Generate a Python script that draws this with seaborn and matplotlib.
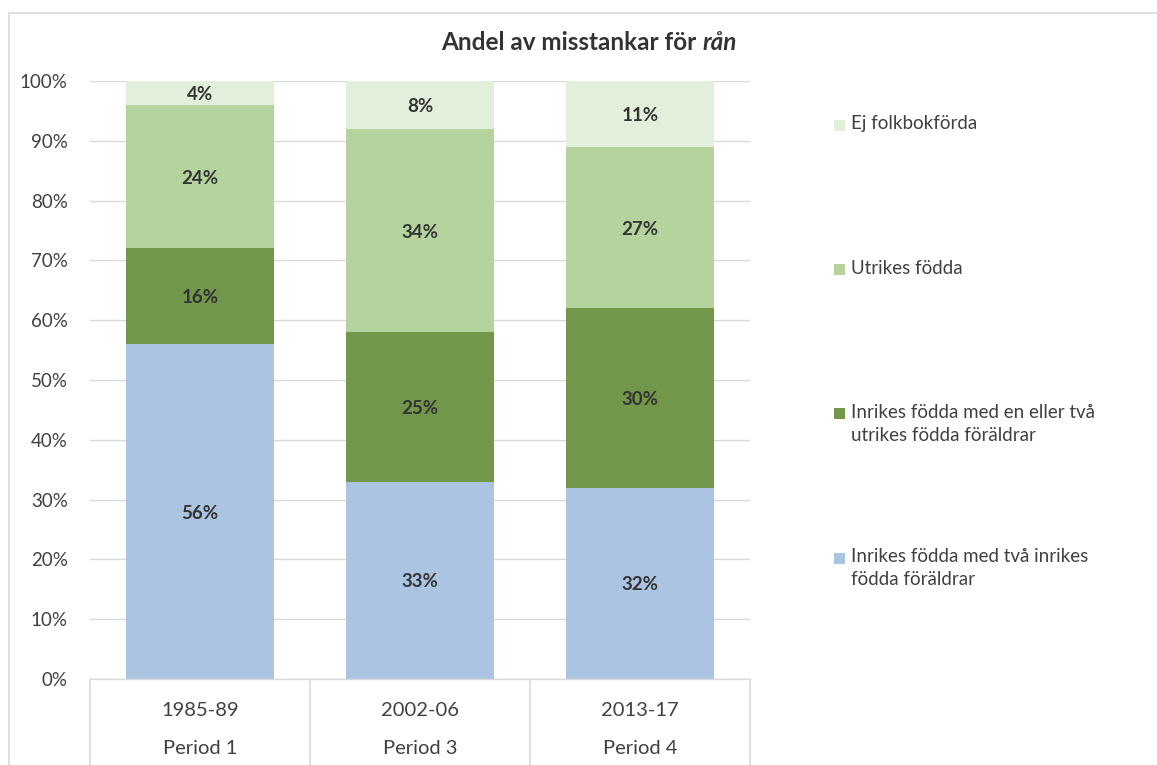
import matplotlib
matplotlib.use("Agg")
import numpy as np
import pandas as pd
import matplotlib.pyplot as plt
import matplotlib.transforms as mtransforms
from matplotlib.patches import Rectangle
import seaborn as sns

# DATA
# ----
periods = ["1985-89", "2002-06", "2013-17"]
period_names = ["Period 1", "Period 3", "Period 4"]
series_names = ["Inrikes födda med två inrikes\nfödda föräldrar",
                "Inrikes födda med en eller två\nutrikes födda föräldrar",
                "Utrikes födda",
                "Ej folkbokförda"]
inrikes_tva_inrikes = [56, 33, 32]
inrikes_utrikes_foraldrar = [16, 25, 30]
utrikes_fodda = [24, 34, 27]
ej_folkbokforda = [4, 8, 11]
colors = ["#ABC4E2", "#72964A", "#B4D39D", "#E2EFDA"]

series_values = [inrikes_tva_inrikes, inrikes_utrikes_foraldrar, utrikes_fodda, ej_folkbokforda]
text_color = "#404040"
grid_color = "#D9D9D9"

sns.set_theme(style="white")
plt.rcParams["font.family"] = ["Lato", "DejaVu Sans"]

fig = plt.figure(figsize=(11.57, 7.65), dpi=100)
ax = fig.add_axes([90 / 1157, 86 / 765, 660 / 1157, 598 / 765])

# stacked bars: draw cumulative totals from the top series down
cumulative = np.cumsum(np.array(series_values), axis=0)
for i in reversed(range(len(series_values))):
    df = pd.DataFrame({"period": periods, "value": cumulative[i]})
    sns.barplot(data=df, x="period", y="value", color=colors[i], saturation=1,
                width=0.67, linewidth=0, ax=ax)

# value labels in the middle of each segment
for i, vals in enumerate(series_values):
    bottoms = cumulative[i] - np.array(vals)
    for j, v in enumerate(vals):
        ax.text(j, bottoms[j] + v / 2, f"{v}%", ha="center", va="center_baseline",
                fontsize=13.5, fontweight="bold", color="#333333")

# Axes
ax.set_xlim(-0.5, 2.5)
ax.set_ylim(0, 100)
ax.set_yticks(np.arange(0, 101, 10))
ax.set_yticklabels([f"{t}%" for t in range(0, 101, 10)])
ax.tick_params(axis="y", length=0, pad=16, labelsize=13.5, labelcolor=text_color)
ax.tick_params(axis="x", length=0, labelbottom=False)
ax.set_xlabel("")
ax.set_ylabel("")
ax.set_axisbelow(True)
ax.yaxis.grid(True, color=grid_color, linewidth=1)
for side in ["left", "right", "top"]:
    ax.spines[side].set_visible(False)
ax.spines["bottom"].set_color(grid_color)
ax.spines["bottom"].set_linewidth(1)

# two-level category labels with separators
trans = mtransforms.blended_transform_factory(ax.transData, ax.transAxes)
for j in range(len(periods)):
    ax.text(j, -32 / 598, periods[j], transform=trans, ha="center", va="center",
            fontsize=14.5, color=text_color)
    ax.text(j, -69 / 598, period_names[j], transform=trans, ha="center", va="center",
            fontsize=14.5, color=text_color)
for xv in [-0.5, 0.5, 1.5, 2.5]:
    ax.plot([xv, xv], [0, -0.2], transform=trans, clip_on=False, color=grid_color, lw=1.2)

# Legend (reversed order, right side)
legend_y = [125, 269, 414, 558]
for k, i in enumerate(reversed(range(len(series_names)))):
    yc = 1 - legend_y[k] / 765
    fig.add_artist(Rectangle((834 / 1157, yc - 5.5 / 765), 11 / 1157, 11 / 765,
                             transform=fig.transFigure, facecolor=colors[i], edgecolor="none"))
    fig.text(851 / 1157, yc + 9.5 / 765, series_names[i], ha="left", va="top",
             fontsize=13.5, color=text_color, linespacing=1.4)

# Title with italic last word
t1 = fig.text(0, 1 - 43 / 765, "Andel av misstankar för ", fontsize=17.5, fontweight="bold",
              color="#333333", va="center")
t2 = fig.text(0, 1 - 43 / 765, "rån", fontsize=17.5, fontweight="bold", fontstyle="italic",
              color="#333333", va="center")
fig.canvas.draw()
r = fig.canvas.get_renderer()
w1 = t1.get_window_extent(r).width
w2 = t2.get_window_extent(r).width
x0 = 589 - (w1 + w2) / 2
t1.set_x(x0 / 1157)
t2.set_x((x0 + w1) / 1157)

# chart border
fig.add_artist(Rectangle((9 / 1157, -0.05), 1.0, 1 - 13 / 765 + 0.05, transform=fig.transFigure,
                         fill=False, edgecolor=grid_color, lw=1.2))

fig.savefig("out.png", dpi=100)
plt.close(fig)
